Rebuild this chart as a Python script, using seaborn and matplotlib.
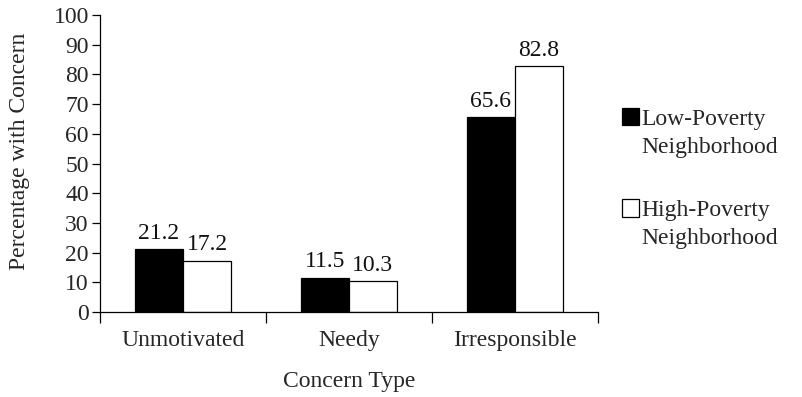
import matplotlib
matplotlib.use("Agg")
import matplotlib.pyplot as plt
import seaborn as sns
import pandas as pd
from matplotlib.patches import Patch

categories = ["Unmotivated", "Needy", "Irresponsible"]
low_poverty = [21.2, 11.5, 65.6]
high_poverty = [17.2, 10.3, 82.8]
series_names = ["Low-Poverty\nNeighborhood", "High-Poverty\nNeighborhood"]
y_ticks = [0, 10, 20, 30, 40, 50, 60, 70, 80, 90, 100]

df = pd.DataFrame({
    "Concern Type": categories * 2,
    "Percentage": low_poverty + high_poverty,
    "Group": [series_names[0]] * 3 + [series_names[1]] * 3,
})

FS = 17

sns.set_style("white")
plt.rcParams["font.family"] = ["Liberation Serif", "DejaVu Serif"]
plt.rcParams["font.size"] = FS

fig = plt.figure(figsize=(8.03, 3.97), dpi=100)
ax = fig.add_axes([0.1245, 0.214, 0.62, 0.748])

sns.barplot(data=df, x="Concern Type", y="Percentage", hue="Group",
            palette=["black", "white"], edgecolor="black", linewidth=0.9,
            width=0.58, gap=0, ax=ax, legend=False, errorbar=None)

for container in ax.containers:
    ax.bar_label(container, labels=[f"{v:.1f}" for v in container.datavalues],
                 padding=4, fontsize=FS, color="#111111")

ax.set_ylim(0, 100)
ax.set_xlim(-0.5, 2.5)
ax.set_yticks(y_ticks)
ax.set_xticks([-0.5, 0.5, 1.5, 2.5], minor=False)
ax.set_xticklabels([])
ax.set_xticks([0, 1, 2], minor=True)
ax.set_xticklabels(categories, minor=True)
ax.tick_params(axis="x", which="major", direction="out", length=8, width=0.9,
               bottom=True, color="black")
ax.tick_params(axis="x", which="minor", length=0, pad=13, labelsize=FS)
ax.tick_params(axis="y", direction="out", length=6, width=0.9, left=True,
               color="black", labelsize=FS, pad=2)

for side in ["top", "right"]:
    ax.spines[side].set_visible(False)
for side in ["left", "bottom"]:
    ax.spines[side].set_color("black")
    ax.spines[side].set_linewidth(0.9)

ax.set_xlabel("Concern Type", fontsize=FS, labelpad=14)
ax.set_ylabel("Percentage with Concern", fontsize=FS)
ax.yaxis.set_label_coords(-0.14, 0.54)

# One small legend per series: the swatch sits beside the first line of the label
legend_y = [0.665, 0.435]
for name, colour, y in zip(series_names, ["black", "white"], legend_y):
    first, second = name.split("\n")
    handles = [Patch(facecolor=colour, edgecolor="black", linewidth=0.9),
               Patch(facecolor="none", edgecolor="none")]
    fig.legend(handles=handles, labels=[first, second], loc="center left",
               bbox_to_anchor=(0.774, y), frameon=False, fontsize=FS,
               handlelength=0.75, handleheight=0.75, handletextpad=0.1,
               labelspacing=0.25, borderpad=0, borderaxespad=0)

fig.savefig("out.png", dpi=100)
